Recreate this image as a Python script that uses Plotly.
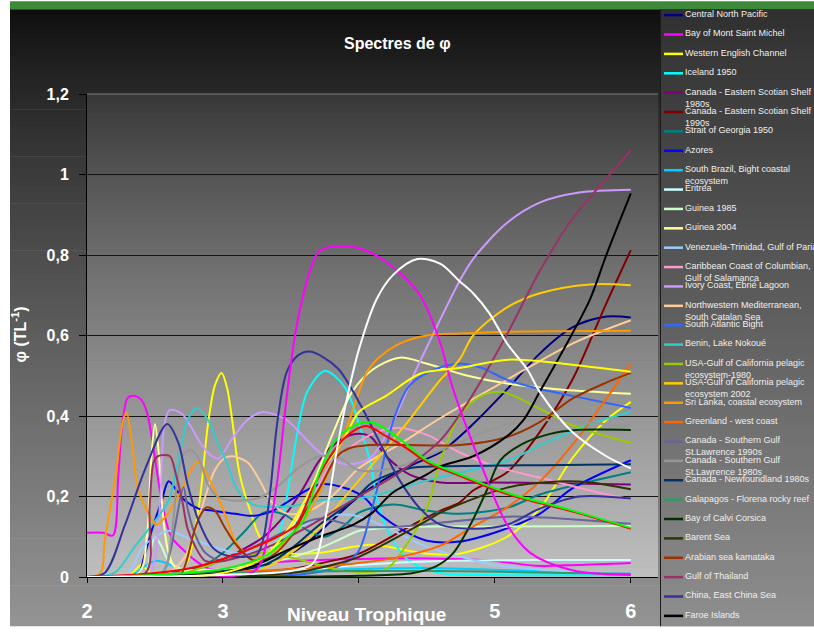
import plotly.graph_objects as go

# ---------------- data ----------------
x_ticks = [2, 3, 5, 6]
x_tick_text = ["2", "3", "5", "6"]
y_ticks = [0, 0.2, 0.4, 0.6, 0.8, 1.0, 1.2]
y_tick_text = ["0", "0,2", "0,4", "0,6", "0,8", "1", "1,2"]

legend_names = [
    "Central North Pacific", "Bay of Mont Saint Michel", "Western English Channel",
    "Iceland 1950", "Canada - Eastern Scotian Shelf<br>1980s",
    "Canada - Eastern Scotian Shelf<br>1990s", "Strait of Georgia 1950", "Azores",
    "South Brazil, Bight coastal<br>ecosystem", "Eritrea", "Guinea 1985", "Guinea 2004",
    "Venezuela-Trinidad, Gulf of Paria", "Caribbean Coast of Columbian,<br>Gulf of Salamanca",
    "Ivory Coast, Ebrié Lagoon", "Northwestern Mediterranean,<br>South Catalan Sea",
    "South Atlantic Bight", "Benin, Lake Nokoué",
    "USA-Gulf of California pelagic<br>ecosystem-1980",
    "USA-Gulf of California pelagic<br>ecosystem 2002", "Sri Lanka, coastal ecosystem",
    "Greenland - west coast", "Canada - Southern Gulf<br>St.Lawrence 1990s",
    "Canada - Southern Gulf<br>St.Lawrence 1980s", "Canada - Newfoundland 1980s",
    "Galapagos - Florena rocky reef", "Bay of Calvi Corsica", "Barent Sea",
    "Arabian sea kamataka", "Gulf of Thailand", "China, East China Sea", "Faroe Islands",
]
legend_colors = [
    "#000080", "#FF00FF", "#FFFF00", "#00FFFF", "#800080", "#800000", "#008080", "#0000FF",
    "#00CCFF", "#CCFFFF", "#CCFFCC", "#FFFF99", "#99CCFF", "#FF99CC", "#CC99FF", "#FFCC99",
    "#3366FF", "#33CCCC", "#99CC00", "#FFCC00", "#FF9900", "#FF6600", "#666699", "#969696",
    "#003366", "#339966", "#003300", "#333300", "#993300", "#993366", "#333399", "#000000",
]

central_north_pacific_x = [2, 3.0, 3.4, 3.6, 3.8, 4.0, 4.2, 4.4, 4.6, 4.84, 5.1, 5.33, 5.57, 5.82, 6]
central_north_pacific_y = [0, 0.01, 0.04, 0.08, 0.14, 0.2, 0.245, 0.28, 0.31, 0.38, 0.47, 0.555, 0.62, 0.647, 0.645]

mont_saint_michel_x = [2, 2.12, 2.19, 2.23, 2.26, 2.3, 2.35, 2.4, 2.44, 2.48, 2.52, 2.56, 2.62, 2.7, 2.8, 2.9, 3.0, 3.3, 4.0, 4.7, 5.0, 5.3, 5.6, 6]
mont_saint_michel_y = [0.11, 0.11, 0.103, 0.25, 0.38, 0.445, 0.45, 0.44, 0.41, 0.34, 0.25, 0.17, 0.1, 0.07, 0.04, 0.02, 0.02, 0.035, 0.045, 0.045, 0.04, 0.028, 0.03, 0.035]

western_channel_x = [2, 2.3, 2.35, 2.4, 2.45, 2.5, 2.6, 2.72, 2.82, 2.89, 2.94, 2.99, 3.03, 3.07, 3.12, 3.2, 3.29, 3.47, 3.71, 3.96, 4.1, 4.5, 4.74, 5.09, 5.33, 5.57, 5.82, 6]
western_channel_y = [0, 0.0, 0.015, 0.03, 0.015, 0.003, 0.003, 0.027, 0.17, 0.38, 0.475, 0.507, 0.47, 0.385, 0.26, 0.165, 0.09, 0.06, 0.06, 0.075, 0.08, 0.058, 0.058, 0.1, 0.17, 0.295, 0.39, 0.435]

iceland_x = [2, 3.2, 3.3, 3.4, 3.47, 3.54, 3.62, 3.75, 3.9, 4.0, 4.08, 4.15, 4.25, 4.37, 4.6, 5.0, 6]
iceland_y = [0, 0.01, 0.03, 0.09, 0.2, 0.345, 0.46, 0.512, 0.47, 0.38, 0.29, 0.17, 0.09, 0.04, 0.01, 0.005, 0.005]

scotian_1980_x = [2, 2.6, 2.9, 3.1, 3.3, 3.47, 3.59, 3.71, 3.84, 3.97, 4.08, 4.2, 4.37, 4.6, 5.0, 6]
scotian_1980_y = [0, 0.01, 0.03, 0.06, 0.1, 0.16, 0.22, 0.29, 0.335, 0.355, 0.35, 0.3, 0.255, 0.235, 0.235, 0.23]

scotian_1990_x = [2, 3.0, 3.5, 3.8, 4.0, 4.37, 4.6, 4.74, 4.84, 5.09, 5.33, 5.57, 5.82, 6]
scotian_1990_y = [0, 0.005, 0.02, 0.04, 0.058, 0.125, 0.165, 0.185, 0.215, 0.26, 0.36, 0.49, 0.68, 0.812]

georgia_x = [2, 2.8, 3.0, 3.15, 3.3, 3.45, 3.6, 3.75, 3.9, 4.0, 4.25, 4.5, 4.74, 5.1, 5.33, 5.7, 6]
georgia_y = [0, 0.02, 0.06, 0.11, 0.16, 0.155, 0.12, 0.1, 0.13, 0.16, 0.18, 0.165, 0.157, 0.173, 0.205, 0.237, 0.26]

azores_x = [2, 2.37, 2.42, 2.48, 2.55, 2.6, 2.66, 2.72, 2.82, 2.92, 3.09, 3.22, 3.37, 3.49, 3.71, 3.86, 4.03, 4.15, 4.33, 4.5, 4.74, 5.04, 5.33, 5.57, 6]
azores_y = [0, 0.005, 0.05, 0.12, 0.19, 0.238, 0.215, 0.19, 0.17, 0.165, 0.157, 0.152, 0.165, 0.19, 0.23, 0.225, 0.2, 0.157, 0.115, 0.09, 0.088, 0.115, 0.157, 0.22, 0.29]

south_brazil_x = [2, 2.3, 2.5, 2.7, 3.0, 3.5, 4.0, 4.6, 5.5, 6]
south_brazil_y = [0, 0.0, 0.04, 0.02, 0.01, 0.015, 0.02, 0.022, 0.012, 0.008]

eritrea_x = [2, 2.5, 3.0, 3.5, 4.0, 4.6, 5.3, 6]
eritrea_y = [0, 0.005, 0.005, 0.015, 0.03, 0.04, 0.042, 0.042]

guinea_1985_x = [2, 2.42, 2.47, 2.5, 2.55, 2.6, 2.7, 3.0, 3.4, 3.7, 3.9, 4.0, 4.4, 5.0, 6]
guinea_1985_y = [0, 0.005, 0.07, 0.1, 0.075, 0.04, 0.02, 0.02, 0.04, 0.07, 0.1, 0.115, 0.125, 0.125, 0.127]

guinea_2004_x = [2, 2.38, 2.44, 2.47, 2.5, 2.53, 2.56, 2.6, 2.66, 3.0, 3.3, 3.5, 3.65, 3.8, 3.95, 4.1, 4.3, 4.5, 4.8, 5.1, 5.5, 6]
guinea_2004_y = [0, 0.01, 0.1, 0.28, 0.38, 0.3, 0.15, 0.06, 0.02, 0.02, 0.05, 0.12, 0.22, 0.35, 0.46, 0.515, 0.545, 0.53, 0.5, 0.48, 0.465, 0.455]

venezuela_x = [2, 2.3, 2.4, 2.5, 2.6, 2.72, 2.85, 3.1, 3.3, 3.5, 3.7, 3.9, 4.05, 4.25, 4.5, 4.75, 5.0, 5.5, 6]
venezuela_y = [0, 0.01, 0.07, 0.1, 0.115, 0.1, 0.085, 0.06, 0.07, 0.11, 0.145, 0.155, 0.145, 0.115, 0.075, 0.05, 0.03, 0.015, 0.01]

caribbean_x = [2, 3.0, 3.3, 3.5, 3.65, 3.8, 3.96, 4.13, 4.3, 4.5, 4.74, 5.0, 5.33, 5.7, 6]
caribbean_y = [0, 0.02, 0.05, 0.1, 0.19, 0.285, 0.328, 0.36, 0.37, 0.353, 0.31, 0.275, 0.247, 0.215, 0.193]

ivory_coast_x = [2, 2.45, 2.5, 2.54, 2.57, 2.61, 2.7, 2.77, 2.84, 2.92, 2.97, 3.07, 3.18, 3.29, 3.37, 3.47, 3.59, 3.71, 3.81, 3.91, 4.08, 4.25, 4.4, 4.57, 4.74, 4.84, 5.09, 5.33, 5.62, 6]
ivory_coast_y = [0, 0.0, 0.05, 0.2, 0.38, 0.415, 0.405, 0.37, 0.33, 0.3, 0.295, 0.345, 0.39, 0.41, 0.405, 0.39, 0.35, 0.31, 0.29, 0.28, 0.295, 0.385, 0.5, 0.62, 0.735, 0.79, 0.88, 0.93, 0.955, 0.962]

mediterranean_x = [2, 2.6, 2.72, 2.79, 2.87, 2.94, 3.01, 3.07, 3.18, 3.27, 3.35, 3.45, 3.6, 3.8, 4.0, 4.3, 4.6, 5.09, 5.57, 6]
mediterranean_y = [0, 0.01, 0.05, 0.11, 0.2, 0.265, 0.295, 0.3, 0.285, 0.24, 0.19, 0.16, 0.16, 0.2, 0.27, 0.33, 0.395, 0.49, 0.58, 0.638]

south_atlantic_x = [2, 3.5, 3.8, 3.99, 4.08, 4.15, 4.25, 4.37, 4.55, 4.75, 4.9, 5.09, 5.33, 5.57, 6]
south_atlantic_y = [0, 0.005, 0.02, 0.06, 0.15, 0.24, 0.385, 0.475, 0.515, 0.53, 0.52, 0.49, 0.467, 0.45, 0.42]

benin_x = [2, 2.2, 2.35, 2.48, 2.6, 2.65, 2.7, 2.74, 2.81, 2.89, 2.96, 3.04, 3.1, 3.22, 3.47, 3.71, 4.08, 4.5, 5.1, 5.35, 5.7, 6]
benin_y = [0, 0.01, 0.075, 0.13, 0.19, 0.255, 0.335, 0.39, 0.42, 0.39, 0.335, 0.275, 0.22, 0.18, 0.175, 0.19, 0.2, 0.24, 0.29, 0.33, 0.38, 0.41]

california_1980_x = [2, 2.6, 3.0, 3.3, 3.6, 3.9, 4.2, 4.35, 4.5, 4.6, 4.74, 4.9, 5.05, 5.33, 5.57, 6]
california_1980_y = [0, 0.0, 0.04, 0.06, 0.04, 0.015, 0.02, 0.08, 0.17, 0.29, 0.4, 0.45, 0.46, 0.418, 0.377, 0.333]

california_2002_x = [2, 3.2, 3.5, 3.7, 3.85, 4.0, 4.15, 4.37, 4.6, 4.74, 4.84, 5.09, 5.33, 5.7, 6]
california_2002_y = [0, 0.01, 0.06, 0.12, 0.18, 0.24, 0.3, 0.39, 0.49, 0.54, 0.6, 0.67, 0.705, 0.727, 0.725]

sri_lanka_x = [2, 2.1, 2.13, 2.21, 2.26, 2.29, 2.33, 2.375, 2.45, 2.51, 2.6, 2.7, 2.79, 2.82, 2.92, 3.01, 3.09, 3.2, 3.35, 3.5, 3.65, 3.79, 3.91, 4.0, 4.06, 4.13, 4.3, 4.5, 4.74, 5.2, 6]
sri_lanka_y = [0, 0.01, 0.09, 0.25, 0.38, 0.41, 0.335, 0.22, 0.16, 0.13, 0.16, 0.22, 0.28, 0.285, 0.23, 0.16, 0.09, 0.05, 0.06, 0.1, 0.17, 0.27, 0.37, 0.46, 0.51, 0.54, 0.58, 0.6, 0.605, 0.61, 0.612]

greenland_x = [2, 2.5, 3.5, 4.0, 4.3, 4.6, 4.84, 5.09, 5.33, 5.57, 5.82, 6]
greenland_y = [0, 0.005, 0.02, 0.035, 0.05, 0.078, 0.125, 0.173, 0.237, 0.328, 0.443, 0.53]

st_lawrence_1990_x = [2, 2.55, 2.61, 2.65, 2.71, 2.74, 2.79, 2.87, 3.0, 3.2, 3.5, 3.7, 4.0, 4.3, 4.74, 5.1, 5.5, 6]
st_lawrence_1990_y = [0, 0.01, 0.06, 0.13, 0.223, 0.17, 0.11, 0.06, 0.04, 0.07, 0.12, 0.145, 0.125, 0.125, 0.14, 0.15, 0.145, 0.132]

st_lawrence_1980_x = [2, 2.55, 2.62, 2.67, 2.71, 2.77, 2.83, 2.89, 2.96, 3.07, 3.27, 3.42, 3.55, 3.71, 3.86, 4.0, 4.25, 4.5, 4.74, 5.1, 5.33, 5.6, 6]
st_lawrence_1980_y = [0, 0.01, 0.1, 0.255, 0.305, 0.315, 0.287, 0.23, 0.2, 0.19, 0.197, 0.23, 0.27, 0.3, 0.295, 0.265, 0.27, 0.3, 0.335, 0.38, 0.39, 0.385, 0.375]

newfoundland_x = [2, 3.3, 3.5, 3.71, 3.96, 4.1, 4.37, 4.6, 5.5, 6]
newfoundland_y = [0, 0.03, 0.07, 0.13, 0.19, 0.235, 0.27, 0.275, 0.278, 0.28]

galapagos_x = [2, 2.5, 3.0, 4.0, 4.6, 5.5, 6]
galapagos_y = [0, 0.005, 0.01, 0.015, 0.015, 0.01, 0.008]

calvi_x = [2, 4.0, 4.4, 4.57, 4.69, 4.82, 4.94, 5.04, 5.2, 5.4, 5.6, 6]
calvi_y = [0, 0.003, 0.01, 0.027, 0.058, 0.13, 0.215, 0.29, 0.33, 0.355, 0.365, 0.365]

barent_x = [2, 3.5, 3.8, 4.0, 4.5, 4.6, 5.09, 5.46, 5.7, 6]
barent_y = [0, 0.01, 0.03, 0.05, 0.14, 0.16, 0.222, 0.237, 0.235, 0.218]

arabian_x = [2, 2.68, 2.72, 2.79, 2.84, 2.88, 2.94, 3.01, 3.09, 3.22, 3.35, 3.5, 3.6, 3.71, 3.84, 3.93, 4.08, 4.74, 5.09, 5.33, 5.57, 5.82, 6]
arabian_y = [0, 0.005, 0.027, 0.115, 0.157, 0.173, 0.165, 0.125, 0.083, 0.042, 0.05, 0.1, 0.16, 0.22, 0.3, 0.32, 0.328, 0.328, 0.348, 0.385, 0.443, 0.483, 0.507]

thailand_x = [2, 2.43, 2.46, 2.49, 2.52, 2.61, 2.65, 2.7, 2.74, 2.79, 2.87, 3.0, 3.3, 3.6, 3.8, 4.0, 4.3, 4.6, 4.85, 5.1, 5.33, 5.57, 5.82, 6]
thailand_y = [0, 0.01, 0.17, 0.285, 0.3, 0.3, 0.26, 0.19, 0.12, 0.08, 0.04, 0.04, 0.07, 0.12, 0.16, 0.2, 0.26, 0.34, 0.46, 0.61, 0.76, 0.89, 0.99, 1.06]

china_x = [2, 2.13, 2.28, 2.43, 2.59, 2.67, 2.74, 2.82, 2.92, 3.01, 3.15, 3.25, 3.3, 3.35, 3.4, 3.47, 3.55, 3.64, 3.84, 4.0, 4.13, 4.3, 4.45, 4.6, 4.84, 5.09, 5.33, 5.62, 6]
china_y = [0, 0.01, 0.13, 0.27, 0.38, 0.335, 0.23, 0.14, 0.075, 0.055, 0.05, 0.055, 0.1, 0.22, 0.385, 0.51, 0.55, 0.56, 0.52, 0.435, 0.35, 0.24, 0.17, 0.13, 0.12, 0.13, 0.17, 0.2, 0.195]

faroe_x = [2, 3.0, 3.22, 3.47, 3.71, 3.96, 4.1, 4.25, 4.5, 4.6, 4.84, 5.09, 5.21, 5.33, 5.57, 5.7, 5.82, 6]
faroe_y = [0, 0.01, 0.027, 0.066, 0.1, 0.13, 0.16, 0.21, 0.255, 0.275, 0.3, 0.35, 0.39, 0.46, 0.605, 0.69, 0.8, 0.953]

# series whose legend entries fall outside the visible legend box
extra_names = ["Série 33", "Série 34", "Série 35", "Série 36", "Série 37"]
extra_colors = ["#FF00FF", "#FFFF00", "#FF0000", "#00FF00", "#FFFFFF"]

magenta_b_x = [2, 3.0, 3.25, 3.33, 3.4, 3.47, 3.54, 3.64, 3.71, 3.875, 4.06, 4.25, 4.45, 4.6, 4.69, 4.91, 5.09, 5.26, 5.57, 6]
magenta_b_y = [0, 0.0, 0.02, 0.1, 0.24, 0.45, 0.62, 0.76, 0.81, 0.823, 0.81, 0.77, 0.7, 0.58, 0.47, 0.27, 0.13, 0.06, 0.017, 0.005]

yellow_b_x = [2, 3.0, 3.3, 3.5, 3.7, 3.9, 4.0, 4.2, 4.45, 4.75, 5.1, 5.5, 6]
yellow_b_y = [0, 0.01, 0.05, 0.13, 0.25, 0.35, 0.41, 0.45, 0.505, 0.52, 0.54, 0.53, 0.51]

red_x = [2, 2.5, 2.8, 3.0, 3.2, 3.4, 3.54, 3.66, 3.79, 3.91, 4.05, 4.2, 4.35, 4.5, 4.75, 5.1, 5.6, 6]
red_y = [0, 0.01, 0.025, 0.045, 0.07, 0.1, 0.13, 0.22, 0.3, 0.35, 0.375, 0.35, 0.32, 0.285, 0.25, 0.205, 0.16, 0.12]

green_x = [2, 2.5, 3.0, 3.3, 3.45, 3.59, 3.71, 3.84, 3.96, 4.06, 4.15, 4.33, 4.5, 4.74, 5.1, 5.57, 6]
green_y = [0, 0.005, 0.02, 0.05, 0.09, 0.14, 0.26, 0.345, 0.375, 0.385, 0.377, 0.335, 0.29, 0.255, 0.208, 0.165, 0.122]

white_x = [2, 3.0, 3.5, 3.65, 3.69, 3.76, 3.84, 3.91, 4.0, 4.13, 4.25, 4.43, 4.6, 4.74, 4.84, 4.96, 5.09, 5.24, 5.33, 5.57, 5.82, 6]
white_y = [0, 0.005, 0.015, 0.03, 0.05, 0.157, 0.32, 0.44, 0.565, 0.69, 0.75, 0.79, 0.778, 0.735, 0.705, 0.655, 0.58, 0.515, 0.46, 0.36, 0.3, 0.27]

series_xy = [
    (central_north_pacific_x, central_north_pacific_y), (mont_saint_michel_x, mont_saint_michel_y),
    (western_channel_x, western_channel_y), (iceland_x, iceland_y),
    (scotian_1980_x, scotian_1980_y), (scotian_1990_x, scotian_1990_y),
    (georgia_x, georgia_y), (azores_x, azores_y), (south_brazil_x, south_brazil_y),
    (eritrea_x, eritrea_y), (guinea_1985_x, guinea_1985_y), (guinea_2004_x, guinea_2004_y),
    (venezuela_x, venezuela_y), (caribbean_x, caribbean_y), (ivory_coast_x, ivory_coast_y),
    (mediterranean_x, mediterranean_y), (south_atlantic_x, south_atlantic_y), (benin_x, benin_y),
    (california_1980_x, california_1980_y), (california_2002_x, california_2002_y),
    (sri_lanka_x, sri_lanka_y), (greenland_x, greenland_y),
    (st_lawrence_1990_x, st_lawrence_1990_y), (st_lawrence_1980_x, st_lawrence_1980_y),
    (newfoundland_x, newfoundland_y), (galapagos_x, galapagos_y), (calvi_x, calvi_y),
    (barent_x, barent_y), (arabian_x, arabian_y), (thailand_x, thailand_y),
    (china_x, china_y), (faroe_x, faroe_y),
]
extra_xy = [(magenta_b_x, magenta_b_y), (yellow_b_x, yellow_b_y), (red_x, red_y),
            (green_x, green_y), (white_x, white_y)]

# ---------------- layout geometry ----------------
W, H = 814, 634
ML, MR, MT, MB = 87, 156, 94, 50
PW, PH = W - ML - MR, H - MT - MB
FONT = "Arial, Liberation Sans, sans-serif"


def px2x(px):
    return (px - ML) / PW


def py2y(py):
    return (H - MB - py) / PH


def bands(x0, x1, y0, y1, c0, c1, gamma, n):
    out = []
    h = (y1 - y0) / n
    for i in range(n):
        t = (i + 0.5) / n
        v = int(round(c0 + (c1 - c0) * (t ** gamma)))
        ya = y0 + i * h
        yb = min(y1, ya + h + 0.7)
        out.append(dict(type="rect", xref="paper", yref="paper",
                        x0=px2x(x0), x1=px2x(x1), y0=py2y(yb), y1=py2y(ya),
                        fillcolor=f"rgb({v},{v},{v})", line=dict(width=0), layer="below"))
    return out


fig = go.Figure()
for (xs, ys), name, col in zip(series_xy, legend_names, legend_colors):
    fig.add_trace(go.Scatter(x=xs, y=ys, mode="lines", name=name.replace("<br>", " "),
                             line=dict(color=col, width=2, shape="spline", smoothing=0.9),
                             showlegend=False))
for (xs, ys), name, col in zip(extra_xy, extra_names, extra_colors):
    fig.add_trace(go.Scatter(x=xs, y=ys, mode="lines", name=name,
                             line=dict(color=col, width=2, shape="spline", smoothing=0.9),
                             showlegend=False))

shapes = []
# green strip on top
shapes.append(dict(type="rect", xref="paper", yref="paper", x0=px2x(10), x1=px2x(W),
                   y0=py2y(8), y1=py2y(0), fillcolor="#3d8a3b", line=dict(width=0), layer="below"))
# chart area gradient
shapes += bands(10, W, 8, H, 12, 148, 0.8, 105)
# plot area gradient
shapes += bands(ML, ML + PW, MT, MT + PH, 54, 191, 0.85, 98)
# legend box gradient
shapes += bands(661, W, 8, H, 48, 142, 1.0, 105)
shapes.append(dict(type="line", xref="paper", yref="paper", x0=px2x(660.5), x1=px2x(660.5),
                   y0=py2y(H), y1=py2y(8), line=dict(color="#1c1c1c", width=1), layer="below"))
# plot top border
shapes.append(dict(type="line", xref="paper", yref="paper", x0=0, x1=1, y0=1, y1=1,
                   line=dict(color="#7c7c7c", width=1)))

annotations = []
# legend entries
leg_top, leg_step = 14.0, 19.66
for i, (name, col) in enumerate(zip(legend_names, legend_colors)):
    yc = leg_top + i * leg_step
    shapes.append(dict(type="line", xref="paper", yref="paper", x0=px2x(664), x1=px2x(683),
                       y0=py2y(yc), y1=py2y(yc), line=dict(color=col, width=2.5)))
    annotations.append(dict(text=name, xref="paper", yref="paper", x=px2x(685), y=py2y(yc - 6.2),
                            xanchor="left", yanchor="top", align="left", showarrow=False,
                            borderpad=0, borderwidth=0,
                            font=dict(family=FONT, size=9, color="#f0f0f0")))

# titles
annotations.append(dict(text="Spectres de φ", xref="paper", yref="paper", x=px2x(397), y=py2y(43),
                        xanchor="center", yanchor="middle", showarrow=False,
                        font=dict(family=FONT, size=16, color="white", weight="bold")))
annotations.append(dict(text="Niveau Trophique", xref="paper", yref="paper", x=px2x(366), y=py2y(622),
                        xanchor="center", yanchor="middle", showarrow=False,
                        font=dict(family=FONT, size=19, color="white", weight="bold")))
annotations.append(dict(text="φ (TL<sup>-1</sup>)", xref="paper", yref="paper", x=px2x(19), y=py2y(338),
                        xanchor="center", yanchor="middle", showarrow=False, textangle=-90,
                        font=dict(family=FONT, size=16, color="white", weight="bold")))

fig.update_layout(
    width=W, height=H, margin=dict(l=ML, r=MR, t=MT, b=MB, pad=0),
    paper_bgcolor="white", plot_bgcolor="rgba(0,0,0,0)",
    showlegend=False, shapes=shapes, annotations=annotations,
    font=dict(family=FONT, color="white"),
)
fig.update_xaxes(range=[2, 6.2], tickvals=x_ticks, ticktext=x_tick_text,
                 showgrid=False, zeroline=False, showline=True, linecolor="black", linewidth=1,
                 ticks="outside", ticklen=5, tickcolor="black", ticklabelstandoff=11,
                 minor=dict(ticks="outside", ticklen=5, tickcolor="black", tick0=2, dtick=1,
                            showgrid=False),
                 tickfont=dict(family=FONT, size=20, color="white", weight="bold"))
fig.update_yaxes(range=[0, 1.2], tickvals=y_ticks, ticktext=y_tick_text,
                 showgrid=True, gridcolor="#141414", gridwidth=1, zeroline=False,
                 showline=True, linecolor="black", linewidth=1,
                 ticks="outside", ticklen=7, tickcolor="black", ticklabelstandoff=7,
                 tickfont=dict(family=FONT, size=16, color="white", weight="bold"))

page_css = ("document.documentElement.style.margin='0';document.documentElement.style.padding='0';"
            "document.body.style.margin='0';document.body.style.padding='0';"
            "document.documentElement.style.overflow='hidden';document.body.style.overflow='hidden';")
fig.write_html("out.html", post_script=page_css)
